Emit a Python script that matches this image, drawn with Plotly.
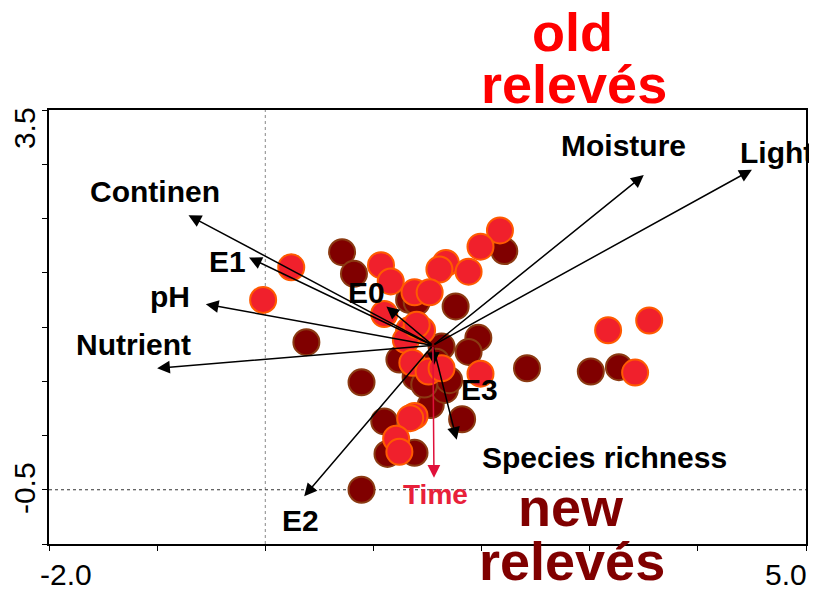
import plotly.graph_objects as go

# ---------------- data ----------------
new_x = [0.71, 0.82, 0.38, 2.21, 1.76, 1.97, 1.88, 2.42, 0.89, 1.82, 1.10, 1.13, 1.38,
         1.53, 1.66, 3.01, 3.27, 0.89, 1.24, 1.63, 1.70, 1.39, 1.33, 1.40, 1.58, 1.47]
new_y = [2.19, 1.99, 1.36, 2.20, 1.69, 1.40, 1.27, 1.12, 0.99, 0.65, 0.63, 0.33, 0.34,
         0.78, 0.92, 1.09, 1.13, 0.00, 1.20, 1.32, 1.01, 1.04, 1.75, 1.73, 1.18, 0.97]

old_x = [0.24, -0.02, 1.07, 1.16, 1.10, 2.17, 1.99, 1.67, 1.61, 1.88, 1.38, 1.52, 1.33,
         1.45, 1.30, 1.36, 1.51, 1.63, 1.99, 1.38, 1.34, 1.21, 1.24, 3.17, 3.55, 3.42, 1.40]
old_y = [2.05, 1.75, 2.07, 1.92, 1.62, 2.39, 2.24, 2.09, 2.03, 2.01, 1.82, 1.82, 1.47,
         1.47, 1.38, 1.17, 1.09, 1.12, 1.07, 0.68, 0.66, 0.47, 0.35, 1.47, 1.56, 1.08, 1.52]

arrow_origin = (1.55, 1.33)
arrow_names = ["Continen", "E1", "pH", "Nutrient", "E0", "E2", "Moisture", "Light",
               "E3", "Species richness", "Time"]
arrow_x = [-0.71, -0.15, -0.55, -1.00, 1.12, 0.36, 3.50, 4.50, 1.56, 1.77, 1.56]
arrow_y = [2.53, 2.14, 1.71, 1.12, 1.69, -0.06, 2.90, 2.95, 1.15, 0.46, 0.11]

# label anchor positions (layout)
label_x = [-1.02, -0.35, -0.88, -1.22, 0.94, 0.33, 3.31, 4.73, 1.98, 3.14, 1.57]
label_y = [2.75, 2.10, 1.78, 1.34, 1.82, -0.28, 3.17, 3.11, 0.92, 0.30, -0.04]

x_range = [-2.0, 5.0]
y_range = [-0.5, 3.5]
x_ticklabels = ["-2.0", "5.0"]
y_ticklabels = ["-0.5", "3.5"]

# ---------------- layout geometry (page has an 8px body margin) ----------------
OFF = 8
W, H = 817 - OFF, 591 - OFF
L, R, T, B = 49 - OFF, 9, 110 - OFF, 47
PW, PH = W - L - R, H - T - B


def px(xp, yp):
    """page pixel -> paper coords"""
    return (xp - OFF - L) / PW, (H - B - (yp - OFF)) / PH


fig = go.Figure()

fig.add_trace(go.Scatter(
    x=new_x, y=new_y, mode="markers",
    marker=dict(size=26, color="#800000", line=dict(color="#8B3A12", width=2)),
    hoverinfo="skip", showlegend=False))
fig.add_trace(go.Scatter(
    x=old_x, y=old_y, mode="markers",
    marker=dict(size=26, color="#F0202C", line=dict(color="#FF5A00", width=2)),
    hoverinfo="skip", showlegend=False))

annotations = []
for name, xe, ye, lx, ly in zip(arrow_names, arrow_x, arrow_y, label_x, label_y):
    col = "#E0103A" if name == "Time" else "black"
    annotations.append(dict(
        x=xe, y=ye, ax=arrow_origin[0], ay=arrow_origin[1],
        xref="x", yref="y", axref="x", ayref="y",
        text="", showarrow=True, arrowhead=2, arrowsize=1.7,
        arrowwidth=1.5, arrowcolor=col, standoff=0))
    annotations.append(dict(
        x=lx, y=ly, xref="x", yref="y", text=name, showarrow=False,
        font=dict(family="Liberation Sans, Arial", size=28 if name == "Time" else 30,
                  color="#E8203A" if name == "Time" else "black", weight="bold"),
        xanchor="center", yanchor="middle"))

# tick labels
tick_font = dict(family="Liberation Sans, Arial", size=30, color="black")
for txt, (xp_, yp_) in zip(x_ticklabels, [(66, 574), (788, 574)]):
    xx, yy = px(xp_, yp_)
    annotations.append(dict(x=xx, y=yy, xref="paper", yref="paper", text=txt,
                            showarrow=False, font=tick_font,
                            xanchor="center", yanchor="middle"))
for txt, (xp_, yp_) in zip(y_ticklabels, [(24, 488), (24, 128)]):
    xx, yy = px(xp_, yp_)
    annotations.append(dict(x=xx, y=yy, xref="paper", yref="paper", text=txt,
                            showarrow=False, font=tick_font, textangle=-90,
                            xanchor="center", yanchor="middle"))

# group titles
title_font = "Liberation Sans, Arial"
for txt, col, (xp_, yp_) in [("old", "#FF0000", (574, 32)),
                             ("relevés", "#FF0000", (575, 84)),
                             ("new", "#800000", (572, 507)),
                             ("relevés", "#800000", (573, 561))]:
    xx, yy = px(xp_, yp_)
    annotations.append(dict(x=xx, y=yy, xref="paper", yref="paper", text=txt,
                            showarrow=False,
                            font=dict(family=title_font, size=54, color=col, weight="bold"),
                            xanchor="center", yanchor="middle"))

shapes = [
    dict(type="line", xref="x", yref="y", x0=0, x1=0, y0=y_range[0], y1=y_range[1],
         line=dict(color="#888888", width=1, dash="dot"), layer="below"),
    dict(type="line", xref="x", yref="y", x0=x_range[0], x1=x_range[1], y0=0, y1=0,
         line=dict(color="#333333", width=1, dash="dot"), layer="below"),
]

fig.update_layout(
    width=W, height=H, margin=dict(l=L, r=R, t=T, b=B),
    paper_bgcolor="white", plot_bgcolor="white",
    annotations=annotations, shapes=shapes, showlegend=False,
    xaxis=dict(range=x_range, showgrid=False, zeroline=False, showline=True,
               linecolor="black", linewidth=1.5, mirror=True,
               ticks="outside", ticklen=5, tickcolor="black", tickwidth=1.2,
               tick0=-2, dtick=1, showticklabels=False, fixedrange=True),
    yaxis=dict(range=y_range, showgrid=False, zeroline=False, showline=True,
               linecolor="black", linewidth=1.5, mirror=True,
               ticks="outside", ticklen=5, tickcolor="black", tickwidth=1.2,
               tick0=-0.5, dtick=0.5, showticklabels=False, fixedrange=True),
)

fig.write_html("out.html")
